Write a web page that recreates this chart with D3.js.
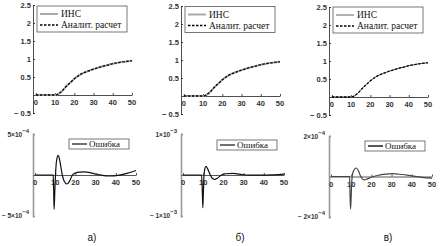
<!DOCTYPE html>
<html>
<head>
<meta charset="utf-8">
<script src="https://cdn.jsdelivr.net/npm/d3@7"></script>
<style>
    body { margin: 0; background: #fff; }
    svg { display: block; }
    .tick-lbl { font-family: 'Liberation Sans', Arial, sans-serif; font-weight: bold; font-size: 7.5px; fill: #333; }
    .leg-lbl { font-family: 'Liberation Serif', 'Times New Roman', serif; font-size: 9.5px; fill: #111; }
    .cap-lbl { font-family: 'Liberation Sans', Arial, sans-serif; font-size: 10px; fill: #111; }
</style>
</head>
<body>
<div id="chart"></div>
<script>

// --- data ----------------------------------------------------------------
const xTicks = [0, 10, 20, 30, 40, 50];
const topYTicks = [2.5, 2, 1.5, 1, 0.5, -0.5];
const topYLabels = ['2.5', '2', '1.5', '1', '0.5', '\u2212 0.5'];

const legendTop = ['ИНС', 'Аналит. расчет'];
const legendErr = 'Ошибка';
const captions = ['а)', 'б)', 'в)'];

// step response (same for all three panels)
const stepTime = [0, 5, 10, 11, 12, 13, 14, 15, 16, 18, 20, 22, 25, 28, 30, 33, 35, 38, 40, 43, 45, 48, 50];
const insValues = [0, 0, 0, 0.01, 0.04, 0.08, 0.13, 0.19, 0.25, 0.35, 0.45, 0.53, 0.62, 0.68, 0.72, 0.77, 0.80, 0.84, 0.87, 0.90, 0.92, 0.94, 0.95];
const analytValues = [0, 0, 0, 0.01, 0.04, 0.08, 0.13, 0.19, 0.25, 0.35, 0.45, 0.53, 0.62, 0.68, 0.72, 0.77, 0.80, 0.84, 0.87, 0.90, 0.92, 0.94, 0.95];

// error curves
const errTimeA = [0, 9.0, 9.2, 9.45, 9.8, 10.2, 10.7, 11.5, 12.3, 13.5, 14.5, 15.8, 17, 18.5, 20, 22, 24.7, 27, 30, 33.6, 36, 38, 41, 44, 47, 50];
const errValuesA = [0, 0, -1.5e-4, -4.2e-4, -2.0e-4, 0.3e-4, 1.8e-4, 2.4e-4, 1.7e-4, 0, -0.8e-4, -1.1e-4, -0.8e-4, 0, 0.25e-4, 0.35e-4, 0.38e-4, 0.3e-4, 0.12e-4, -0.05e-4, -0.12e-4, -0.12e-4, -0.05e-4, 0.1e-4, 0.3e-4, 0.55e-4];

const errTimeB = [0, 9.2, 9.5, 9.8, 10.1, 10.4, 10.8, 11.4, 12.2, 13.5, 14.5, 15.7, 17, 19, 21, 24.8, 28, 31, 35, 40, 45, 50];
const errValuesB = [0, 0, -3e-4, -8e-4, -4e-4, 0, 1.5e-4, 2.1e-4, 1.5e-4, 0, -0.8e-4, -1.1e-4, -0.8e-4, 0, 0.3e-4, 0.4e-4, 0.2e-4, 0, -0.05e-4, -0.05e-4, 0.05e-4, 0.2e-4];

const errTimeC = [0, 9.2, 9.4, 9.65, 9.9, 10.3, 11, 12.5, 13.5, 14.5, 15.5, 16.5, 18, 20, 23, 27, 30.7, 35, 40, 45, 50];
const errValuesC = [0, 0, -0.8e-4, -1.6e-4, -1.2e-4, -0.2e-4, 0.25e-4, 0.42e-4, 0.3e-4, 0.05e-4, -0.12e-4, -0.17e-4, -0.12e-4, -0.04e-4, 0.05e-4, 0.12e-4, 0.14e-4, 0.1e-4, 0.03e-4, -0.04e-4, -0.08e-4];

const errLimits = [5e-4, 1e-3, 2e-4];
const errMantissa = ['5', '1', '2'];
const errExponent = ['\u22124', '\u22123', '\u22124'];

// --- layout --------------------------------------------------------------
const width = 446;
const height = 246;

const axisX = [33, 181, 329];       // y-axis position of each panel
const topShift = [0, 1, 2];         // small vertical shift of the top plots
const errColor = ['#111', '#111', '#444'];
const insColor = ['#aaa', '#aaa', '#666'];

let mySVG = d3.select('#chart')
    .append('svg')
        .attr('width', width)
        .attr('height', height);

function drawPanel(i) {
    let ax = axisX[i];
    let g = mySVG.append('g');

    // ## top plot: step response
    let x = d3.scaleLinear()
        .domain([-1.5, 50])
        .range([ax, ax + 99]);

    let y = d3.scaleLinear()
        .domain([-0.5, 2.5])
        .range([113 + topShift[i], 5 + topShift[i]]);

    // y-axis
    g.append('g')
        .attr('transform', `translate(${ax}, 0)`)
        .call(d3.axisRight(y).tickValues(topYTicks).tickSize(2).tickFormat(''))
        .call(s => s.selectAll('path, line').attr('stroke', '#222').attr('stroke-width', 0.8));

    g.append('g')
        .selectAll('text')
        .data(topYTicks)
        .join('text')
            .classed('tick-lbl', true)
            .attr('x', ax - 2)
            .attr('y', d => y(d) + 2.5)
            .attr('text-anchor', 'end')
            .text((d, k) => topYLabels[k]);

    // x-axis at zero
    g.append('g')
        .attr('transform', `translate(0, ${y(0)})`)
        .call(d3.axisTop(x).tickValues(xTicks).tickSize(2).tickFormat('').tickSizeOuter(0))
        .call(s => s.selectAll('path, line').attr('stroke', '#222').attr('stroke-width', 0.8));

    g.append('g')
        .selectAll('text')
        .data(xTicks)
        .join('text')
            .classed('tick-lbl', true)
            .attr('x', d => x(d))
            .attr('y', y(0) + 10)
            .attr('text-anchor', 'middle')
            .text(d => d);

    let stepLine = (vals) => d3.line()
        .x((d, k) => x(stepTime[k]))
        .y(d => y(d))
        .curve(d3.curveMonotoneX)(vals);

    g.append('path')
        .attr('d', stepLine(insValues))
        .attr('fill', 'none')
        .attr('stroke', insColor[i])
        .attr('stroke-width', i == 2 ? 1 : 2);

    g.append('path')
        .attr('d', stepLine(analytValues))
        .attr('fill', 'none')
        .attr('stroke', '#000')
        .attr('stroke-width', 1.3)
        .attr('stroke-dasharray', '2.5,1.5');

    // legend top
    let lx = ax + 4;
    let ly = 6 + topShift[i] * 0.5;
    let lg = g.append('g').attr('transform', `translate(${lx}, ${ly})`);
    lg.append('rect')
        .attr('width', 90)
        .attr('height', 26)
        .attr('fill', '#fff')
        .attr('stroke', '#555')
        .attr('stroke-width', 0.8);
    lg.append('line')
        .attr('x1', 3).attr('x2', 21).attr('y1', 8).attr('y2', 8)
        .attr('stroke', insColor[i])
        .attr('stroke-width', i == 2 ? 1 : 2);
    lg.append('line')
        .attr('x1', 3).attr('x2', 21).attr('y1', 19).attr('y2', 19)
        .attr('stroke', '#000')
        .attr('stroke-width', 1.3)
        .attr('stroke-dasharray', '2.5,1.5');
    lg.selectAll('text.leg-lbl')
        .data(legendTop)
        .join('text')
            .classed('leg-lbl', true)
            .attr('x', 24)
            .attr('y', (d, k) => 11 + k * 11)
            .text(d => d);

    // ## bottom plot: error
    let lim = errLimits[i];
    let times = [errTimeA, errTimeB, errTimeC][i];
    let vals = [errValuesA, errValuesB, errValuesC][i];

    let x2 = d3.scaleLinear()
        .domain([-1, 50])
        .range([ax, ax + 103]);

    let y2 = d3.scaleLinear()
        .domain([-lim, lim])
        .range([216 + (i == 2 ? 1 : 0), 134 + (i == 2 ? 2 : 0)]);

    g.append('g')
        .attr('transform', `translate(${ax}, 0)`)
        .call(d3.axisRight(y2).tickValues([-lim, lim]).tickSize(2).tickFormat(''))
        .call(s => s.selectAll('path, line').attr('stroke', '#999').attr('stroke-width', 1.6));

    // exponent labels
    let expLabels = g.append('g')
        .selectAll('text')
        .data([lim, -lim])
        .join('text')
            .classed('tick-lbl', true)
            .style('font-size', '6.5px')
            .attr('x', ax - 4)
            .attr('y', d => y2(d) + (d > 0 ? 3 : 2))
            .attr('text-anchor', 'end');
    expLabels.append('tspan')
        .text(d => (d < 0 ? '\u2212 ' : '') + errMantissa[i] + '\u00d710');
    expLabels.append('tspan')
        .attr('dy', -4)
        .style('font-size', '6px')
        .text(errExponent[i]);

    g.append('g')
        .attr('transform', `translate(0, ${y2(0)})`)
        .call(d3.axisTop(x2).tickValues(xTicks).tickSize(2).tickFormat('').tickSizeOuter(0))
        .call(s => s.selectAll('path, line').attr('stroke', '#444').attr('stroke-width', 0.9));

    g.append('g')
        .selectAll('text')
        .data(xTicks)
        .join('text')
            .classed('tick-lbl', true)
            .attr('x', d => x2(d))
            .attr('y', y2(0) + 10)
            .attr('text-anchor', 'middle')
            .text(d => d);

    g.append('path')
        .datum(vals)
        .attr('d', d3.line()
            .x((d, k) => x2(times[k]))
            .y(d => y2(d))
            .curve(d3.curveMonotoneX))
        .attr('fill', 'none')
        .attr('stroke', errColor[i])
        .attr('stroke-width', 1.2);

    // legend bottom
    let eg = g.append('g').attr('transform', `translate(${ax + 36}, ${139 + i})`);
    eg.append('rect')
        .attr('width', 60)
        .attr('height', 10)
        .attr('fill', '#fff')
        .attr('stroke', '#555')
        .attr('stroke-width', 0.8);
    eg.append('line')
        .attr('x1', 3).attr('x2', 18).attr('y1', 5).attr('y2', 5)
        .attr('stroke', errColor[i])
        .attr('stroke-width', i == 2 ? 1.8 : 1.2);
    eg.append('text')
        .classed('leg-lbl', true)
        .style('font-size', '9px')
        .attr('x', 20)
        .attr('y', 8)
        .text(legendErr);

    // caption
    g.append('text')
        .classed('cap-lbl', true)
        .attr('x', ax + 59)
        .attr('y', 241)
        .attr('text-anchor', 'middle')
        .text(captions[i]);
}

[0, 1, 2].forEach(drawPanel);

</script>
</body>
</html>
